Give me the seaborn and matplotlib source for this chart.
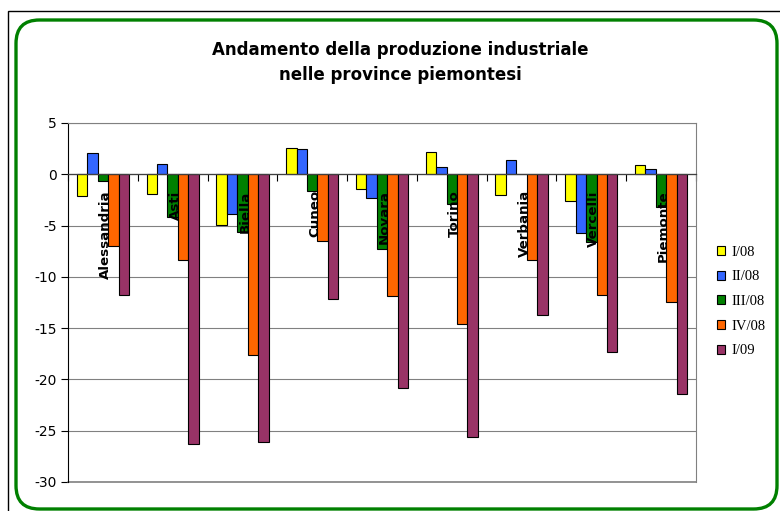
import pandas as pd
import matplotlib
matplotlib.use('Agg')
import matplotlib.pyplot as plt
import matplotlib.transforms as mtransforms
import seaborn as sns
from matplotlib.patches import FancyBboxPatch, Rectangle
from matplotlib.ticker import FixedLocator

# DATI: variazioni % produzione industriale per provincia
province = ['Alessandria', 'Asti', 'Biella', 'Cuneo', 'Novara',
            'Torino', 'Verbania', 'Vercelli', 'Piemonte']
periodi = ['I/08', 'II/08', 'III/08', 'IV/08', 'I/09']

i_08 = [-2.1, -1.9, -4.9, 2.6, -1.4, 2.2, -2.0, -2.6, 0.9]
ii_08 = [2.1, 1.0, -3.9, 2.5, -2.3, 0.7, 1.4, -5.7, 0.5]
iii_08 = [-0.7, -4.2, -5.6, -1.6, -7.3, -2.9, 0.0, -6.6, -3.2]
iv_08 = [-7.0, -8.4, -17.6, -6.5, -11.9, -14.6, -8.4, -11.8, -12.5]
i_09 = [-11.8, -26.3, -26.1, -12.2, -20.8, -25.6, -13.7, -17.3, -21.4]

colori = ['#FFFF00', '#3366FF', '#008000', '#FF6600', '#993366']

serie = [i_08, ii_08, iii_08, iv_08, i_09]
df = pd.DataFrame({
    'provincia': province * len(periodi),
    'periodo': [p for p in periodi for _ in province],
    'valore': [v for s in serie for v in s],
})

sns.set_style('white')
plt.rcParams['font.family'] = ['DejaVu Sans']
plt.rcParams['text.color'] = 'black'
plt.rcParams['xtick.color'] = 'black'
plt.rcParams['ytick.color'] = 'black'
plt.rcParams['axes.unicode_minus'] = False

fig = plt.figure(figsize=(7.8, 5.11), dpi=100)
ax = fig.add_axes([0.0872, 0.0568, 0.8051, 0.7025])

sns.barplot(data=df, x='provincia', y='valore', hue='periodo', order=province,
            hue_order=periodi, palette=colori, width=0.75, saturation=1,
            edgecolor='black', linewidth=0.8, errorbar=None, ax=ax)

ax.set_ylim(-30, 5)
ax.set_xlim(-0.5, len(province) - 0.5)
ax.set_yticks(range(-30, 6, 5))
ax.yaxis.grid(True, color='#808080', linewidth=0.8)
ax.set_axisbelow(True)
ax.axhline(-30, color='#808080', linewidth=1.2, clip_on=False)
ax.set_xlabel('')
ax.set_ylabel('')

# asse categorie sullo zero
ax.spines['bottom'].set_position(('data', 0))
ax.spines['bottom'].set_color('#404040')
ax.spines['bottom'].set_linewidth(0.9)
ax.spines['left'].set_color('black')
ax.spines['top'].set_color('#808080')
ax.spines['right'].set_color('#808080')
ax.xaxis.set_minor_locator(FixedLocator([i + 0.5 for i in range(-1, len(province))]))
ax.tick_params(axis='x', which='major', length=0, labelbottom=False)
ax.tick_params(axis='x', which='minor', bottom=True, length=5, width=0.8, color='black', direction='out')
ax.tick_params(axis='y', left=True, length=5, width=0.8, direction='out', labelsize=10, pad=3)

# etichette ruotate sopra le barre
off = mtransforms.offset_copy(ax.transData, fig=fig, x=2.5, y=-16, units='dots')
for i, nome in enumerate(province):
    ax.text(i, 0, nome, transform=off, rotation=90, ha='center', va='top',
            fontsize=9.6, fontweight='bold', zorder=10)

handles, labels = ax.get_legend_handles_labels()
ax.legend(handles, labels, loc='center left', bbox_to_anchor=(0.91, 0.41),
          bbox_transform=fig.transFigure, frameon=False, borderpad=0,
          handlelength=0.55, handleheight=0.55, handletextpad=0.45, labelspacing=0.8,
          prop={'family': 'Liberation Serif', 'size': 10.5})

fig.text(0.513, 0.877, 'Andamento della produzione industriale\nnelle province piemontesi',
         ha='center', va='center', fontsize=12, fontweight='bold', linespacing=1.5)

# cornici
fig.patches.append(Rectangle((8 / 780, -0.1), 1.5, 1.1 - 11 / 511, transform=fig.transFigure,
                             fill=False, edgecolor='black', linewidth=1.0))
fig.patches.append(FancyBboxPatch((16 / 780, 2 / 511), 761 / 780, 489 / 511,
                                  boxstyle='round,pad=0,rounding_size=0.03',
                                  transform=fig.transFigure, fill=False,
                                  edgecolor='#008000', linewidth=2.4,
                                  mutation_aspect=780 / 511))

fig.savefig('out.png', dpi=100)
